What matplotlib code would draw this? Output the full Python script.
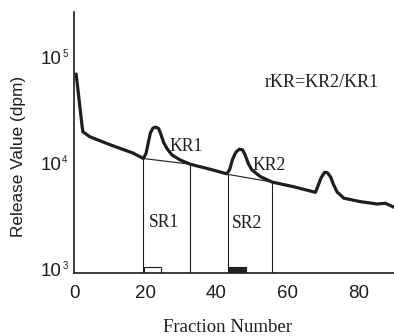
import matplotlib
matplotlib.use("Agg")
import matplotlib.pyplot as plt
from matplotlib.ticker import NullLocator

# Release curve (fraction number vs release value, dpm)
fraction = [0.6, 1.1, 2.3, 2.5, 4.5, 10.1, 16.6, 19.5, 20.3, 20.9, 21.5, 22.2, 23.0,
            23.8, 24.4, 25.2, 26.1, 27.5, 29.9, 32.7, 38.3, 43.0, 43.8, 44.6, 45.5,
            46.5, 47.4, 48.2, 49.0, 50.0, 52.4, 55.7, 61.8, 67.9, 68.6, 69.5, 70.5,
            71.3, 72.2, 73.0, 74.0, 75.9, 80.6, 85.3, 87.6, 90.0]
release = [75000, 53700, 23800, 21400, 19200, 16200, 13500, 12000, 13500, 17000,
           21000, 23200, 23700, 23000, 20500, 17000, 15000, 13000, 11600, 10600, 9500,
           8600, 9500, 11800, 13700, 14700, 14500, 12800, 10800, 9400, 8100, 7200,
           6500, 5760, 6600, 7900, 8900, 8800, 8000, 6800, 5800, 5070, 4700, 4470,
           4540, 4170]

# Baselines under the two peaks (start, end)
base1_x = [19.5, 32.7]
base1_y = [12000, 10600]
base2_x = [43.3, 55.7]
base2_y = [8500, 7200]

# Collection markers at the bottom
bar_left = [19.7, 43.7]
bar_width = [4.7, 4.8]
bar_top = [1150, 1150]
bar_color = ['white', '#222222']

# Axis ticks
x_ticks = [0, 20, 40, 60, 80]
y_exponents = [3, 4, 5]

floor = 1000

fig = plt.figure(figsize=(3.94, 3.36), dpi=100)
ax = fig.add_axes([74/394, 63/336, 320/394, 261/336])

ink = '#1e1e1e'
ax.plot(fraction, release, color=ink, lw=2.3, solid_joinstyle='round',
        solid_capstyle='round', zorder=3)
ax.plot(base1_x, base1_y, color=ink, lw=0.8)
ax.plot(base2_x, base2_y, color=ink, lw=0.8)
for bx, by in zip(base1_x + base2_x, base1_y + base2_y):
    ax.vlines(bx, floor, by, color=ink, lw=0.8)

ax.bar(bar_left, [t - floor for t in bar_top], width=bar_width, bottom=floor,
       align='edge', color=bar_color, edgecolor=ink, linewidth=0.8, zorder=2)

ax.set_yscale('log')
ax.set_ylim(1000, 10**5.46)
ax.set_xlim(0, 90)
ax.set_xticks(x_ticks)
ax.set_xticklabels([str(t) for t in x_ticks], family='Liberation Sans')
ax.yaxis.set_major_locator(NullLocator())
ax.yaxis.set_minor_locator(NullLocator())
ax.tick_params(axis='x', length=0, labelsize=13.5, colors=ink, pad=9)

# y tick labels: "10" with a small raised exponent
for e in y_exponents:
    ax.annotate('10', xy=(0, 10**e), xycoords=('axes fraction', 'data'),
                xytext=(-9, 1), textcoords='offset points', ha='right', va='center',
                family='Liberation Sans', fontsize=13.5, color=ink)
    ax.annotate(str(e), xy=(0, 10**e), xycoords=('axes fraction', 'data'),
                xytext=(-8.5, 5), textcoords='offset points', ha='left', va='center',
                family='Liberation Sans', fontsize=7, color=ink)

for s in ['top', 'right']:
    ax.spines[s].set_visible(False)
for s in ['left', 'bottom']:
    ax.spines[s].set_linewidth(1.2)
    ax.spines[s].set_color(ink)

serif = 'Liberation Serif'
ax.text(26.8, 15700, 'KR1', family=serif, fontsize=12.7, color=ink, va='center', ha='left')
ax.text(50.1, 10300, 'KR2', family=serif, fontsize=12.7, color=ink, va='center', ha='left')
ax.text(25.4, 3000, 'SR1', family=serif, fontsize=12.7, color=ink, va='center', ha='center')
ax.text(48.7, 2930, 'SR2', family=serif, fontsize=12.7, color=ink, va='center', ha='center')
ax.text(69.6, 63000, 'rKR=KR2/KR1', family=serif, fontsize=13, color=ink,
        va='center', ha='center')

fig.text(19/394, 1 - 156/336, 'Release Value (dpm)', family='Liberation Sans',
         fontsize=12.4, rotation=90, va='center', ha='center', color=ink)
fig.text(228/394, 1 - 327/336, 'Fraction Number', family=serif, fontsize=13.5,
         va='center', ha='center', color=ink)

fig.savefig('out.png', dpi=100)
